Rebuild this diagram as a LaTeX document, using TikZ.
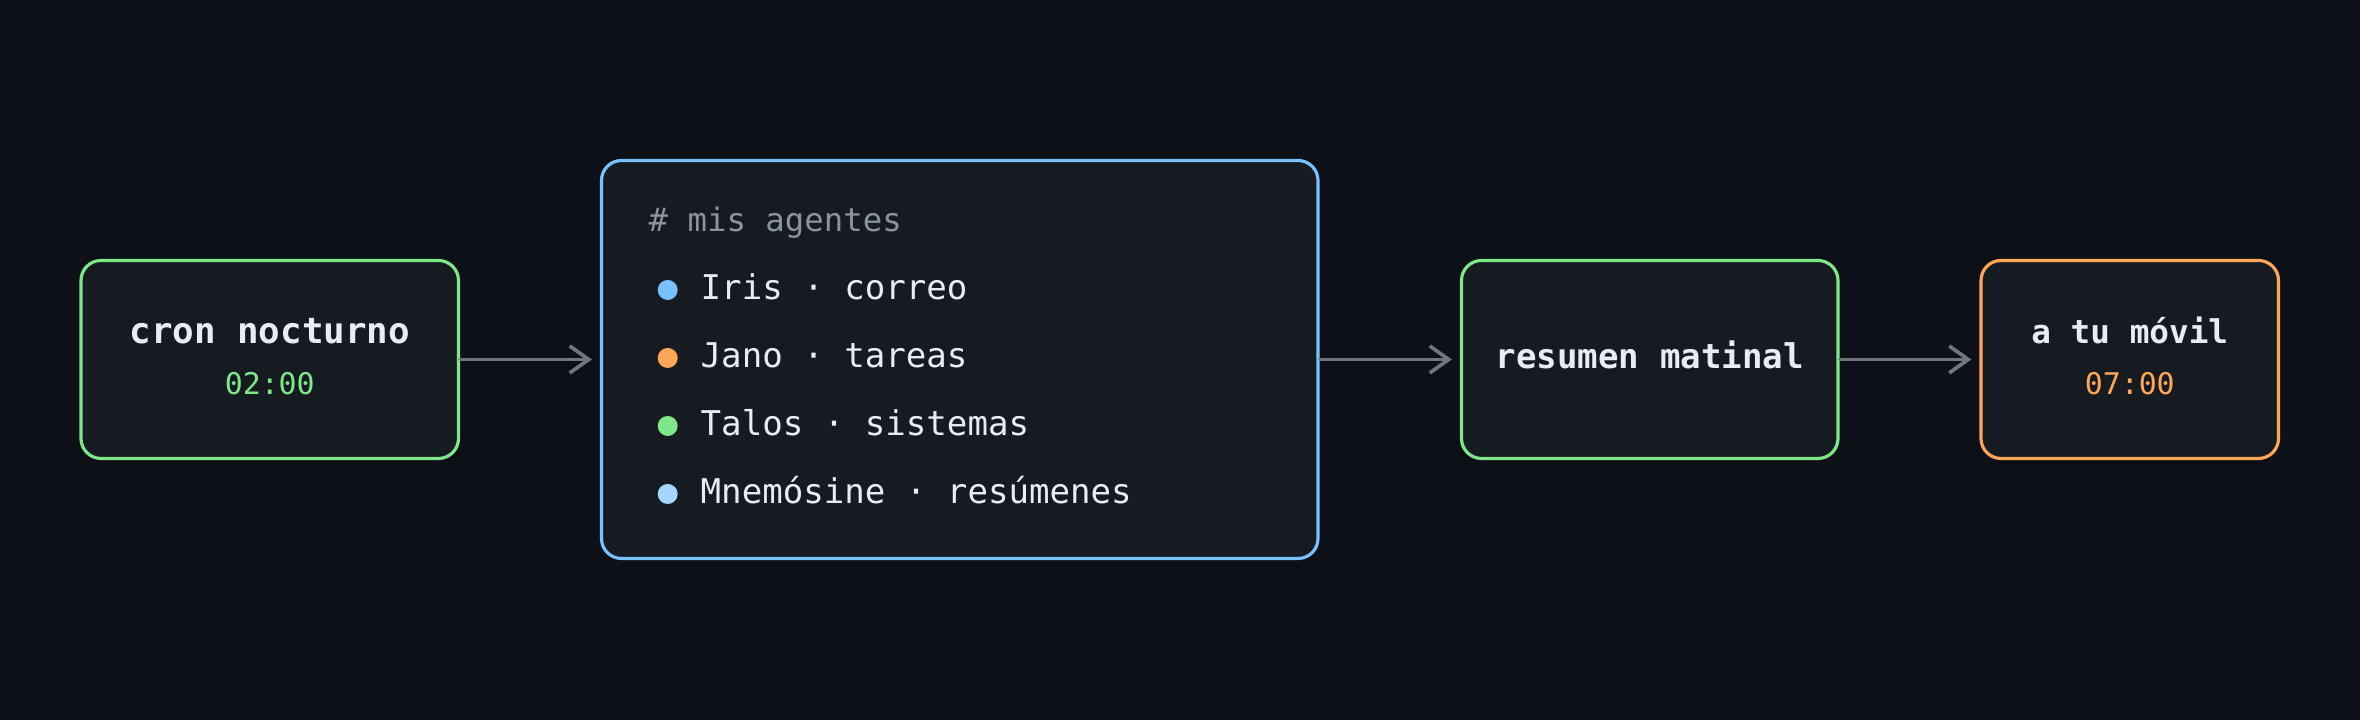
\documentclass[tikz,border=0pt]{standalone}
\usepackage{fontspec}
\setmonofont{DejaVu Sans Mono}
\usetikzlibrary{positioning,arrows.meta}

\definecolor{bgdark}{HTML}{0D1117}
\definecolor{boxfill}{HTML}{161B22}
\definecolor{cgreen}{HTML}{7EE787}
\definecolor{cblue}{HTML}{79C0FF}
\definecolor{corange}{HTML}{FFA657}
\definecolor{cpale}{HTML}{A5D6FF}
\definecolor{ctext}{HTML}{E6EDF3}
\definecolor{cmuted}{HTML}{8B949E}
\definecolor{carrow}{HTML}{6E7681}

\begin{document}
\begin{tikzpicture}[
  every node/.style={font=\ttfamily},
  stagebox/.style={rectangle, rounded corners=0.2cm, draw, fill=boxfill,
                   line width=0.9pt, minimum height=1.98cm},
  headtxt/.style={font=\ttfamily\bfseries\fontsize{9.7}{11}\selectfont,
                  text=ctext, inner sep=0pt, anchor=base},
  hourtxt/.style={font=\ttfamily\fontsize{8.5}{10}\selectfont,
                  inner sep=0pt, anchor=base},
  agenttxt/.style={font=\ttfamily\fontsize{9.7}{11}\selectfont,
                   text=ctext, inner sep=0pt, anchor=base west},
  agentdot/.style={circle, inner sep=0pt, minimum size=0.2cm},
  arr/.style={-{Straight Barb[length=0.19cm, width=0.27cm]},
              line width=1.05pt, draw=carrow, line cap=round, shorten >=0.08cm}
]

\fill[bgdark] (0,0) rectangle (23.6,7.2);
\useasboundingbox (0,0) rectangle (23.6,7.2);

\node[stagebox, draw=cgreen,  minimum width=3.775cm] (cron)    at (2.6975,3.605)  {};
\node[stagebox, draw=cblue,   minimum width=7.165cm, minimum height=3.98cm]
                                                     (agents)  at (9.5975,3.605)  {};
\node[stagebox, draw=cgreen,  minimum width=3.765cm] (resumen) at (16.4975,3.605) {};
\node[stagebox, draw=corange, minimum width=2.975cm] (movil)   at (21.2975,3.605) {};

\node[headtxt, font=\ttfamily\bfseries\fontsize{10.2}{12}\selectfont]
      (cronT) at (2.6975,3.76) {cron nocturno};
\node[hourtxt, text=cgreen] (cronH) at (2.6975,3.25) {02:00};
\node[headtxt] (resumenT) at (16.4975,3.51) {resumen matinal};
\node[headtxt, font=\ttfamily\bfseries\fontsize{9.3}{11}\selectfont]
      (movilT) at (21.2975,3.76) {a tu móvil};
\node[hourtxt, text=corange] (movilH) at (21.2975,3.25) {07:00};

% lista de agentes
\node[agenttxt, text=cmuted, font=\ttfamily\fontsize{9.2}{11}\selectfont]
      (listHead) at (6.48,4.88) {\# mis agentes};
\foreach \who/\col [count=\i] in {Iris · correo/cblue, Jano · tareas/corange,
                                  Talos · sistemas/cgreen, Mnemósine · resúmenes/cpale} {
  \node[agentdot, fill=\col] (dot\i) at (6.677,{4.30-0.68*(\i-1)}) {};
  \node[agenttxt] (agent\i) at (7.0,{4.20-0.68*(\i-1)}) {\who};
}

\draw[arr] (cron)    -- (agents);
\draw[arr] (agents)  -- (resumen);
\draw[arr] (resumen) -- (movil);

\end{tikzpicture}
\end{document}
